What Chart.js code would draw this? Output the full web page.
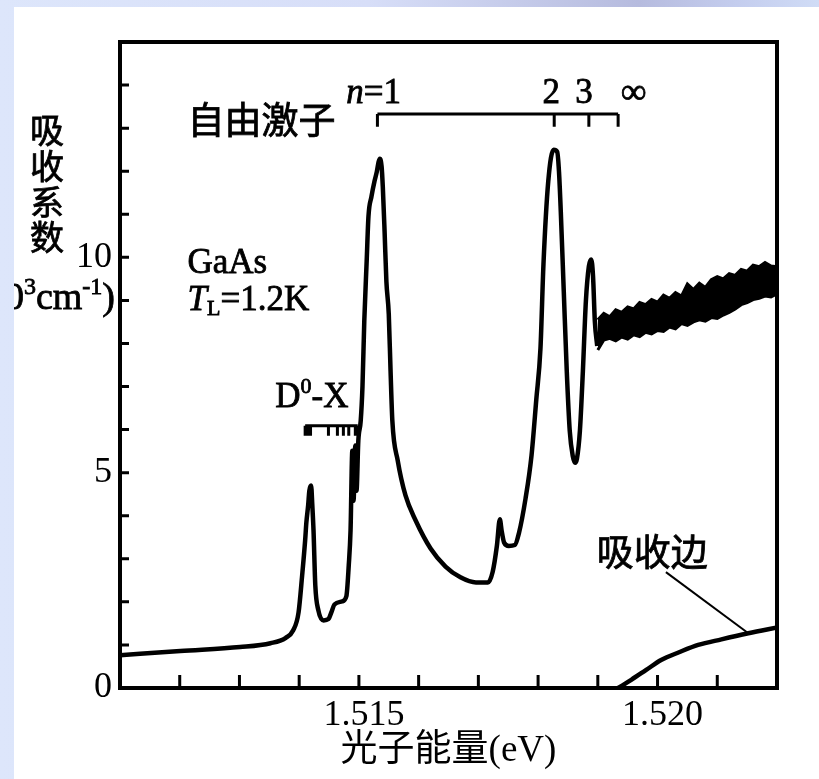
<!DOCTYPE html>
<html lang="zh">
<head>
<meta charset="UTF-8">
<title>GaAs 吸收系数</title>
<script src="https://cdn.jsdelivr.net/npm/chart.js"></script>
<style>
  html, body { margin: 0; padding: 0; }
  body {
    width: 819px; height: 779px; overflow: hidden;
    background: linear-gradient(to right, #dde6fb 0%, #d7def8 45%, #b6bbde 78%, #c4cdee 90%, #d0dcf6 100%);
  }
  #wrap { position: absolute; left: 14px; top: 7px; width: 805px; height: 772px; background: #fff; }
</style>
</head>
<body>
<div id="wrap"><canvas id="grafico" width="805" height="772"></canvas></div>
<script>
// spectrum (eV, 10^3 cm^-1)
const energy = [1.51100, 1.51201, 1.51301, 1.51352, 1.51377, 1.51390, 1.51399, 1.51405, 1.51410, 1.51412,
  1.51415, 1.51417, 1.51420, 1.51422, 1.51424, 1.51427, 1.51432, 1.51441, 1.51449, 1.51454,
  1.51459, 1.51472, 1.51479, 1.51483, 1.51486, 1.51489, 1.51491, 1.51494, 1.51496, 1.51499,
  1.51503, 1.51506, 1.51509, 1.51513, 1.51516, 1.51521, 1.51526, 1.51530, 1.51533, 1.51535,
  1.51538, 1.51540, 1.51543, 1.51546, 1.51550, 1.51553, 1.51556, 1.51565, 1.51578, 1.51595,
  1.51620, 1.51645, 1.51670, 1.51696, 1.51716, 1.51724, 1.51731, 1.51736, 1.51739, 1.51743,
  1.51751, 1.51761, 1.51768, 1.51779, 1.51789, 1.51797, 1.51804, 1.51809, 1.51817, 1.51826,
  1.51832, 1.51835, 1.51838, 1.51843, 1.51848, 1.51853, 1.51858, 1.51862, 1.51865, 1.51870,
  1.51875, 1.51880, 1.51885, 1.51889, 1.51892, 1.51895, 1.51899];
const absorb = [0.76, 0.86, 0.95, 1.04, 1.16, 1.34, 1.76, 2.62, 3.43, 3.84,
  4.24, 4.58, 4.70, 4.24, 3.66, 2.38, 1.81, 1.57, 1.60, 1.76,
  1.94, 2.01, 2.13, 2.85, 3.66, 5.51, 4.35, 5.63, 4.58, 5.74,
  6.20, 7.01, 8.52, 9.91, 10.95, 11.41, 11.76, 11.99, 12.22, 12.29,
  12.11, 11.64, 10.60, 9.44, 8.68, 7.36, 6.20, 5.28, 4.47, 3.89,
  3.24, 2.82, 2.57, 2.45, 2.45, 2.70, 3.30, 3.92, 3.65, 3.38,
  3.30, 3.32, 3.60, 4.40, 5.40, 6.70, 7.89, 9.84, 11.76, 12.50,
  12.45, 11.99, 11.06, 9.21, 7.36, 5.97, 5.39, 5.23, 5.32, 5.97,
  7.36, 8.98, 9.79, 9.95, 9.56, 8.52, 7.94];

// noisy band above the continuum: upper and lower edge
const bandEnergy = [1.5190, 1.5191, 1.5192, 1.5193, 1.5194, 1.5195, 1.5196, 1.5197, 1.5198, 1.5199,
  1.5200, 1.5201, 1.5202, 1.5203, 1.5204, 1.5205, 1.5206, 1.5207, 1.5208, 1.5209,
  1.5210, 1.5211, 1.5212, 1.5213, 1.5214, 1.5215, 1.5216, 1.5217, 1.5218, 1.5219, 1.5220];
const bandUpper = [8.55, 8.70, 8.62, 8.78, 8.72, 8.85, 8.80, 8.95, 8.90, 9.02,
  8.96, 9.12, 9.05, 9.18, 9.10, 9.38, 9.25, 9.40, 9.30, 9.48,
  9.55, 9.50, 9.62, 9.58, 9.72, 9.68, 9.82, 9.78, 9.88, 9.80, 9.78];
const bandLower = [7.85, 8.08, 8.12, 8.06, 8.15, 8.10, 8.20, 8.16, 8.26, 8.22,
  8.30, 8.28, 8.38, 8.34, 8.46, 8.42, 8.50, 8.55, 8.52, 8.60,
  8.58, 8.66, 8.72, 8.80, 8.90, 8.95, 9.02, 9.05, 9.10, 9.08, 9.15];

// absorption edge curve
const edgeEnergy = [1.51934, 1.51956, 1.51981, 1.52006, 1.52036, 1.52068, 1.52107, 1.52152, 1.52202];
const edgeAbs = [0.0, 0.19, 0.42, 0.65, 0.83, 1.00, 1.13, 1.27, 1.41];

// leader line from the 吸收边 label to the curve
const leaderEnergy = [1.52014, 1.52152];
const leaderAbs = [2.69, 1.27];

// exciton series n = 1, 2, 3, ∞
const excitonEnergy = [1.51531, 1.51827, 1.51885, 1.51934];
const excitonLabels = ['n=1', '2', '3', '∞'];
// D0-X lines
const d0xEnergy = [1.51410, 1.51414, 1.51419, 1.51449, 1.51464, 1.51474, 1.51483, 1.51494, 1.51498];

const xTickLabels = [1.515, 1.520];
const yTickLabels = [0, 5, 10];

const serif = "'Liberation Serif', 'Times New Roman', serif";
const mixed = "'Liberation Serif', 'Noto Sans CJK SC', serif";
const cjk = "'Noto Sans CJK SC', sans-serif";

function pts(xs, ys) { return xs.map((v, i) => ({ x: v, y: ys[i] })); }

// draw a run of text pieces [text, font, dy]
function runText(ctx, parts, x, y, align) {
  let w = 0;
  parts.forEach(p => { ctx.font = p[1]; w += ctx.measureText(p[0]).width; });
  let cx = align === 'right' ? x - w : align === 'center' ? x - w / 2 : x;
  ctx.textAlign = 'left';
  parts.forEach(p => {
    ctx.font = p[1];
    ctx.fillText(p[0], cx, y + (p[2] || 0));
    ctx.strokeText(p[0], cx, y + (p[2] || 0));
    cx += ctx.measureText(p[0]).width;
  });
}

const decor = {
  id: 'decor',
  afterDraw(chart) {
    const { ctx, chartArea: a, scales: { x, y } } = chart;
    const big = '35px ' + serif, small = '22px ' + serif;
    ctx.save();
    ctx.strokeStyle = '#000';
    ctx.fillStyle = '#000';
    ctx.lineCap = 'butt';

    // frame + inward ticks
    ctx.lineWidth = 4;
    ctx.strokeRect(a.left, a.top, a.right - a.left, a.bottom - a.top);
    ctx.lineWidth = 3;
    ctx.beginPath();
    y.ticks.forEach(t => {
      if (t.value <= y.min || t.value >= y.max) return;
      const py = y.getPixelForValue(t.value);
      ctx.moveTo(a.left, py); ctx.lineTo(a.left + 9, py);
    });
    x.ticks.forEach(t => {
      const px = x.getPixelForValue(t.value);
      if (px < a.left + 3 || px > a.right - 3) return;
      ctx.moveTo(px, a.bottom); ctx.lineTo(px, a.bottom - 13);
    });
    ctx.stroke();

    // exciton bracket
    const by = y.getPixelForValue(13.33), bt = y.getPixelForValue(13.03);
    ctx.beginPath();
    ctx.moveTo(x.getPixelForValue(excitonEnergy[0]), by);
    ctx.lineTo(x.getPixelForValue(excitonEnergy[excitonEnergy.length - 1]), by);
    excitonEnergy.forEach(e => { const px = x.getPixelForValue(e); ctx.moveTo(px, by); ctx.lineTo(px, bt); });
    ctx.stroke();

    // D0-X comb
    const dy = y.getPixelForValue(6.09), dt = y.getPixelForValue(5.86);
    ctx.beginPath();
    ctx.moveTo(x.getPixelForValue(d0xEnergy[0]), dy);
    ctx.lineTo(x.getPixelForValue(d0xEnergy[d0xEnergy.length - 1]), dy);
    d0xEnergy.forEach(e => { const px = x.getPixelForValue(e); ctx.moveTo(px, dy); ctx.lineTo(px, dt); });
    ctx.stroke();

    ctx.textBaseline = 'middle';
    ctx.lineWidth = 0.8;
    // exciton labels
    const ly = y.getPixelForValue(13.80);
    runText(ctx, [['n', 'italic 35px ' + serif], ['=1', big]], x.getPixelForValue(1.51479), ly, 'left');
    runText(ctx, [[excitonLabels[1], big]], x.getPixelForValue(1.51822), ly, 'center');
    runText(ctx, [[excitonLabels[2], big]], x.getPixelForValue(1.51877), ly, 'center');
    runText(ctx, [[excitonLabels[3], '36px ' + serif]], x.getPixelForValue(1.51960), ly, 'center');

    runText(ctx, [['自由激子', '37px ' + cjk]], x.getPixelForValue(1.51213), y.getPixelForValue(13.20), 'left');
    runText(ctx, [['GaAs', big]], x.getPixelForValue(1.51213), y.getPixelForValue(9.86), 'left');
    runText(ctx, [['T', 'italic 35px ' + serif], ['L', small, 8], ['=1.2K', big]],
      x.getPixelForValue(1.51213), y.getPixelForValue(8.98), 'left');
    runText(ctx, [['D', big], ['0', small, -11], ['-X', big]], x.getPixelForValue(1.51360), y.getPixelForValue(6.74), 'left');
    runText(ctx, [['吸收边', '37px ' + cjk]], x.getPixelForValue(1.51991), y.getPixelForValue(3.15), 'center');

    // y axis title, vertical characters
    const yt = ['吸', '收', '系', '数'];
    const yv = [12.95, 12.12, 11.29, 10.46];
    yt.forEach((c, i) => runText(ctx, [[c, '34px ' + cjk]], a.left - 73, y.getPixelForValue(yv[i]), 'center'));
    runText(ctx, [['(10', '38px ' + serif], ['3', '24px ' + serif, -11], ['cm', '38px ' + serif],
      ['-1', '24px ' + serif, -11], [')', '38px ' + serif]],
      a.left - 5, y.getPixelForValue(9.03), 'right');
    ctx.restore();
  }
};

new Chart(document.getElementById('grafico').getContext('2d'), {
  type: 'scatter',
  data: {
    datasets: [
      { data: pts(energy, absorb), showLine: true, borderColor: '#000', borderWidth: 4.5, pointRadius: 0,
        cubicInterpolationMode: 'monotone', fill: false },
      { data: pts(bandEnergy, bandLower), showLine: true, borderColor: '#000', borderWidth: 3, pointRadius: 0,
        tension: 0, fill: false },
      { data: pts(bandEnergy, bandUpper), showLine: true, borderColor: '#000', borderWidth: 3, pointRadius: 0,
        tension: 0, fill: '-1', backgroundColor: '#000' },
      { data: pts(edgeEnergy, edgeAbs), showLine: true, borderColor: '#000', borderWidth: 4.5, pointRadius: 0,
        cubicInterpolationMode: 'monotone', fill: false },
      { data: pts(leaderEnergy, leaderAbs), showLine: true, borderColor: '#000', borderWidth: 2, pointRadius: 0,
        tension: 0, fill: false }
    ]
  },
  options: {
    responsive: false,
    animation: false,
    devicePixelRatio: 1,
    layout: { padding: { left: 0, top: 35, right: 42, bottom: 0 } },
    plugins: { legend: { display: false }, tooltip: { enabled: false } },
    scales: {
      x: {
        type: 'linear', min: 1.511, max: 1.522,
        afterFit: s => { s.height = 91; },
        grid: { display: false, drawTicks: false },
        border: { display: true, width: 4, color: '#000' },
        ticks: {
          stepSize: 0.001, autoSkip: false, maxRotation: 0, padding: 6, labelOffset: 5,
          color: '#000', font: { family: serif, size: 36 },
          callback: v => {
            const r = Math.round(v * 1000) / 1000;
            return xTickLabels.includes(r) ? r.toFixed(3) : '';
          }
        },
        title: {
          display: true, text: '光子能量(eV)', color: '#000',
          font: { family: mixed, size: 37, lineHeight: 1.2 },
          padding: { top: 0, bottom: 6 }
        }
      },
      y: {
        type: 'linear', min: 0, max: 15,
        afterFit: s => { s.width = 106; },
        grid: { display: false, drawTicks: false },
        border: { display: true, width: 4, color: '#000' },
        ticks: {
          stepSize: 1, autoSkip: false, padding: 8,
          color: '#000', font: { family: serif, size: 36 },
          callback: v => yTickLabels.includes(v) ? String(v) : ''
        }
      }
    }
  },
  plugins: [decor]
});
</script>
</body>
</html>
